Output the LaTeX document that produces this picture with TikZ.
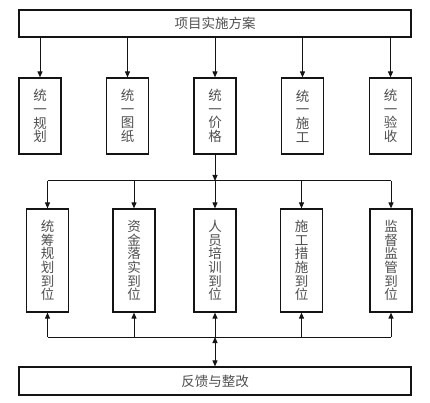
\documentclass[tikz,border=0pt]{standalone}
\usepackage{fontspec}
\newfontfamily\cjk{Noto Sans CJK SC}
\usepackage{tikz}
\usetikzlibrary{positioning,arrows.meta}
\definecolor{ink}{RGB}{20,20,20}
\definecolor{txt}{RGB}{80,80,80}

\begin{document}
\begin{tikzpicture}[
  x=1pt, y=-1pt,
  font=\cjk\fontsize{13.5}{13.7}\selectfont,
  >={Triangle[length=6pt,width=5pt]},
  wide/.style={draw=ink, line width=1.2pt, text=txt, minimum width=392pt, minimum height=27pt, inner sep=0pt},
  col/.style={draw=ink, line width=1.2pt, text=txt, align=center, minimum width=42pt, minimum height=76pt, inner sep=0pt},
  tall/.style={col, minimum height=103pt},
  link/.style={line width=1pt, ink},
]
\useasboundingbox (0,0) rectangle (430,403);

% ---- the plan (top) ----
\node[wide] (PLAN) at (215,23.5) {项目实施方案};

% ---- the five unified items ----
\node[col] (G1) at (40,116)    {统\\一\\规\\划};
\node[col] (G2) at (127.5,116) {统\\一\\图\\纸};
\node[col] (G3) at (215,116)   {统\\一\\价\\格};
\node[col] (G4) at (302.5,116) {统\\一\\施\\工};
\node[col] (G5) at (390.5,116) {统\\一\\验\\收};

% ---- the five measures in place ----
\node[tall] (D1) at (47.5,260.5) {统\\筹\\规\\划\\到\\位};
\node[tall] (D2) at (134,260.5)  {资\\金\\落\\实\\到\\位};
\node[tall] (D3) at (215,260.5)  {人\\员\\培\\训\\到\\位};
\node[tall] (D4) at (301.5,260.5){施\\工\\措\\施\\到\\位};
\node[tall] (D5) at (391,260.5)  {监\\督\\监\\管\\到\\位};

% ---- feedback (bottom) ----
\node[wide, minimum height=28pt] (FB) at (215,381) {反馈与整改};

% bus lines
\coordinate (UP) at (215,181);
\coordinate (LO) at (215,337);

% ============ arrows ============
% plan -> unified items
\foreach \g in {G1,G2,G3,G4,G5}
  \draw[->, link] (PLAN.south -| \g.north) -- (\g.north);

% price item -> upper bus -> measures
\draw[->, link] (G3.south) -- (UP);
\draw[link] (UP -| D1.north) -- (UP -| D5.north);
\foreach \d in {D1,D2,D3,D4,D5}
  \draw[->, link] (UP -| \d.north) -- (\d.north);

% lower bus -> measures, and to feedback
\draw[link] (LO -| D1.south) -- (LO -| D5.south);
\foreach \d in {D1,D2,D3,D4,D5}
  \draw[->, link] (LO -| \d.south) -- (\d.south);
\draw[<->, link] (LO) -- (FB.north);

\end{tikzpicture}
\end{document}
